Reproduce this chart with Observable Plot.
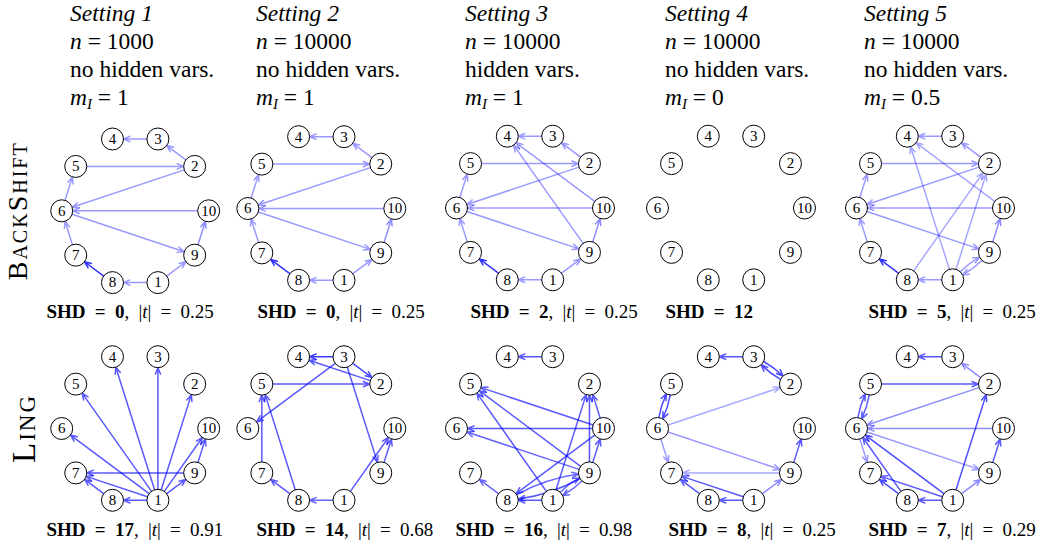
<!DOCTYPE html>
<html><head><meta charset="utf-8">
<script src="https://cdn.jsdelivr.net/npm/d3@7"></script>
<script src="https://cdn.jsdelivr.net/npm/@observablehq/plot@0.6"></script>
<style>
body{margin:0;background:#fff;}
#wrap{width:1040px;position:relative;}
#head{position:relative;height:116px;font-family:"Liberation Serif","Times New Roman",serif;font-size:23.5px;line-height:28px;color:#000;}
.col{position:absolute;top:-1px;white-space:nowrap;}
.col sub{font-size:15px;vertical-align:-4px;line-height:0;}
g[aria-description="method"] text{letter-spacing:2px;}
g[aria-description="shd"] text{word-spacing:4.5px;}
</style>
</head><body><div id="wrap"><div id="head"></div><div id="chart"></div></div>
<script>
// ---- data ----
const settingNames = ["Setting 1","Setting 2","Setting 3","Setting 4","Setting 5"];
const sampleSizes = [1000, 10000, 10000, 10000, 10000];
const hiddenVars = ["no hidden vars.","no hidden vars.","hidden vars.","no hidden vars.","no hidden vars."];
const mIValues = ["1","1","1","0","0.5"];
const methods = ["BackShift","Ling"];
const ringOrder = [10, 2, 3, 4, 5, 6, 7, 8, 1, 9];

const backshiftBase = [[3,4,.4],[2,3,.4],[5,2,.4],[2,6,.4],[6,5,.4],[10,6,.4],[6,9,.4],[7,6,.4],[8,7,.8],[1,8,.4],[1,9,.4],[9,10,.45]];
const backshiftEdges = [
  backshiftBase,
  backshiftBase,
  backshiftBase.concat([[9,4,.4],[10,4,.4]]),
  [],
  backshiftBase.concat([[1,4,.35],[10,4,.35],[8,2,.35],[1,2,.35],[9,1,.4]])
];
const lingEdges = [
  [[1,4,.65],[1,3,.65],[1,5,.65],[1,2,.65],[1,6,.65],[1,10,.65],[1,9,.65],[1,7,.65],[1,8,.65],[9,7,.65],[9,10,.65],[8,7,.65]],
  [[3,4,.75],[2,4,.65],[3,2,.7],[5,2,.65],[3,6,.65],[8,5,.65],[7,5,.65],[8,7,.65],[1,8,.6],[1,10,.65],[9,10,.65],[3,9,.65]],
  [[3,4,.65],[10,5,.65],[9,5,.65],[1,5,.65],[10,6,.65],[9,6,.6],[10,2,.65],[9,2,.65],[1,2,.65],[10,8,.65],[9,8,.65],[1,8,.65],[8,7,.6],[9,10,.65],[1,9,.6],[9,1,.6],[8,9,.6]],
  [[3,4,.65],[3,2,.7],[2,3,.7],[5,6,.7],[6,5,.7],[6,2,.35],[6,9,.4],[6,7,.4],[9,7,.35],[9,10,.65],[1,9,.45],[1,7,.65],[8,7,.65],[1,8,.65]],
  [[3,4,.65],[2,3,.45],[5,2,.65],[2,6,.45],[5,6,.65],[6,5,.65],[10,6,.45],[6,9,.4],[6,7,.4],[1,6,.7],[8,6,.65],[1,7,.65],[8,7,.7],[1,8,.65],[1,2,.7],[1,9,.45],[9,10,.65]]
];
const backshiftSHD = [0, 0, 2, 12, 5];
const backshiftT = [0.25, 0.25, 0.25, null, 0.25];
const lingSHD = [17, 14, 16, 8, 7];
const lingT = [0.91, 0.68, 0.98, 0.25, 0.29];

// ---- layout ----
const headerLeft = [70, 256, 465, 665, 864];
const cx = [134.7, 320.8, 529.5, 730.5, 929.5];
const cy = [[210.3, 208, 207.5, 207.5, 207.5], [428, 428, 428, 428, 428]];
const labelX = [[46, 257, 470, 665, 868], [46, 256, 455, 668, 868]];
const labelY = [311, 529];
const methodX = [18, 24], methodSize = [28, 33];
const RX = 73.5, RY = 75.5, Y0 = 116, W = 1040, H = 544 - Y0;

// header
const head = document.getElementById("head");
settingNames.forEach((s, c) => {
  const d = document.createElement("div");
  d.className = "col";
  d.style.left = headerLeft[c] + "px";
  d.innerHTML = `<i>${s}</i><br><i>n</i> = ${sampleSizes[c]}<br>${hiddenVars[c]}<br><i>m</i><sub><i>I</i></sub> = ${mIValues[c]}`;
  head.appendChild(d);
});

function pos(r, c, node) {
  const k = ringOrder.indexOf(node);
  const a = k * Math.PI / 5;
  return [cx[c] + RX * Math.cos(a), cy[r][c] - RY * Math.sin(a)];
}

const nodes = [];
const straight = [], bent = [];
[backshiftEdges, lingEdges].forEach((edgeSets, r) => {
  edgeSets.forEach((edges, c) => {
    ringOrder.forEach(n => { const [x, y] = pos(r, c, n); nodes.push({x, y, label: String(n)}); });
    edges.forEach(([a, b, w]) => {
      const [x1, y1] = pos(r, c, a), [x2, y2] = pos(r, c, b);
      const recip = edges.some(e => e[0] === b && e[1] === a);
      (recip ? bent : straight).push({x1, y1, x2, y2, w});
    });
  });
});

const shdRows = [];
[[backshiftSHD, backshiftT], [lingSHD, lingT]].forEach(([shd, t], r) => {
  shd.forEach((s, c) => shdRows.push({x: labelX[r][c], y: labelY[r], shd: s, t: t[c],
    text: `SHD = ${s}` + (t[c] != null ? `, |t| = ${t[c]}` : "")}));
});
const methodRows = methods.map((m, r) => ({x: methodX[r], y: cy[r][0], text: m, size: methodSize[r]}));

const serif = "Liberation Serif, Times New Roman, serif";
const arrowOpts = {x1: "x1", y1: "y1", x2: "x2", y2: "y2", stroke: "#0000ff", strokeOpacity: "w",
  strokeWidth: 1.5, headLength: 7, headAngle: 45, insetStart: 11, insetEnd: 11};

const plot = Plot.plot({
  width: W, height: H, margin: 0,
  x: {domain: [0, W], range: [0, W], axis: null},
  y: {domain: [Y0, 544], range: [0, H], axis: null},
  opacity: {domain: [0, 1], range: [0, 1]},
  style: {background: "white"},
  marks: [
    Plot.arrow(straight, arrowOpts),
    Plot.arrow(bent, {...arrowOpts, bend: 14}),
    Plot.dot(nodes, {x: "x", y: "y", r: 11, fill: "white", stroke: "black", strokeWidth: 1}),
    Plot.text(nodes, {x: "x", y: "y", text: "label", fontSize: 15, fontFamily: serif, fill: "black"}),
    Plot.text(shdRows, {x: "x", y: "y", text: "text", textAnchor: "start", fontSize: 19, fontFamily: serif, fill: "black", ariaDescription: "shd"}),
    ...methodRows.map(m => Plot.text([m], {x: "x", y: "y", text: "text", rotate: -90, fontSize: m.size, fontVariant: "small-caps", fontFamily: serif, fill: "black", ariaDescription: "method"}))
  ]
});

// rich text for SHD labels
const NS = "http://www.w3.org/2000/svg";
plot.querySelectorAll('g[aria-description="shd"] text').forEach((el, i) => {
  const d = shdRows[i];
  el.textContent = "";
  const add = (s, st) => { const t = document.createElementNS(NS, "tspan"); t.textContent = s; if (st) Object.entries(st).forEach(([k, v]) => t.setAttribute(k, v)); el.appendChild(t); };
  add(`SHD = ${d.shd}`, {"font-weight": "bold"});
  if (d.t != null) { add(", |"); add("t", {"font-style": "italic"}); add(`| = ${d.t}`); }
});
document.getElementById("chart").appendChild(plot);
</script>
</body></html>
